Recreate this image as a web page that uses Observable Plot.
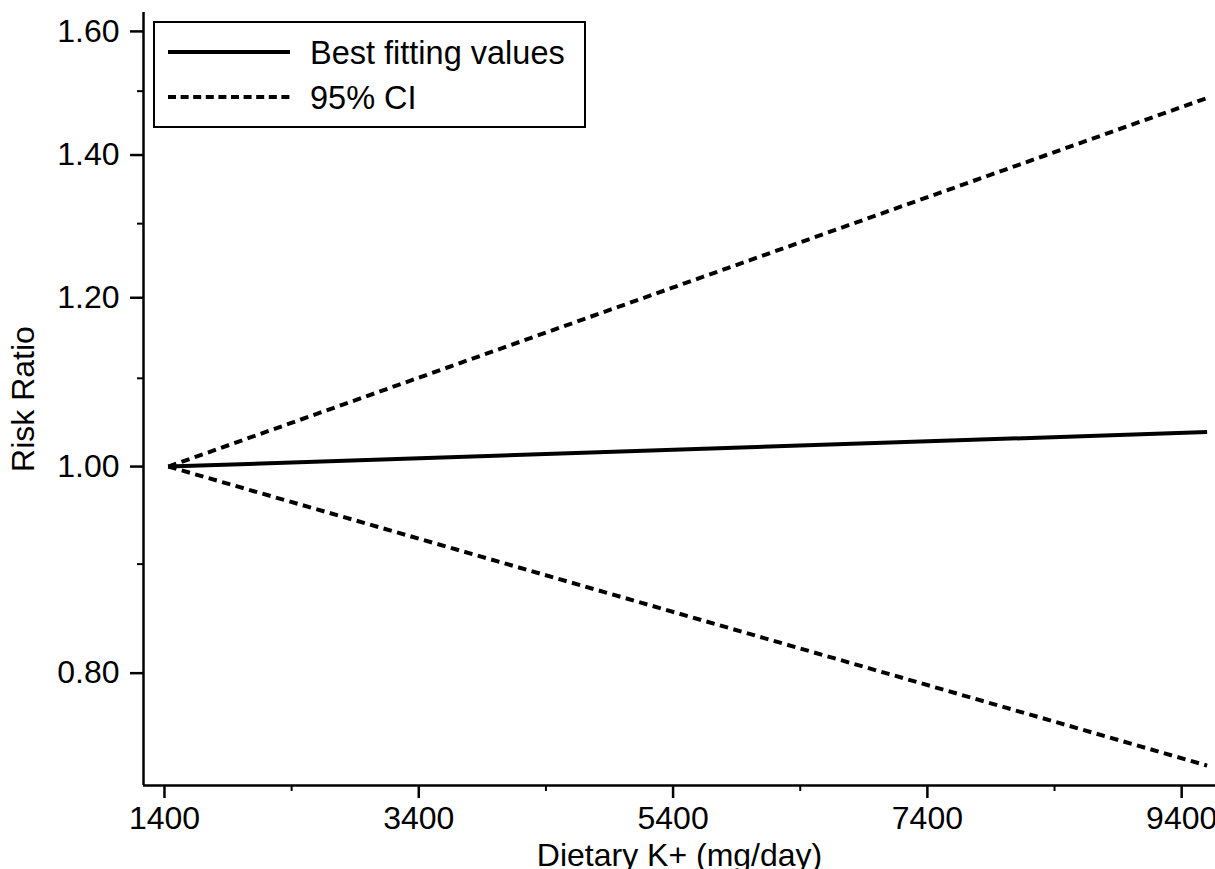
<!DOCTYPE html>
<html><head><meta charset="utf-8">
<script src="https://cdn.jsdelivr.net/npm/d3@7"></script>
<script src="https://cdn.jsdelivr.net/npm/@observablehq/plot@0.6"></script>
<style>
body{margin:0;background:#fff;font-family:"Liberation Sans",Arial,sans-serif}
#wrap{position:relative;width:1215px;height:869px;overflow:hidden}
#legend{position:absolute;left:0;top:0}
</style>
</head><body><div id="wrap"></div>
<script>
// Data
const potassium = [1430, 9600];          // Dietary K+ (mg/day)
const bestFit   = [1.000, 1.038];        // Risk ratio, best fitting values
const ciUpper   = [1.000, 1.489];        // upper 95% CI
const ciLower   = [1.000, 0.724];        // lower 95% CI
const yMajorTicks = [0.8, 1.0, 1.2, 1.4, 1.6];
const yMinorTicks = [0.9, 1.1, 1.3, 1.5];
const xMajorTicks = [1400, 3400, 5400, 7400, 9400];
const xMinorTicks = [2400, 4400, 6400, 8400];
const xDomain = [1235, 9666];
const yDomain = [0.7086, 1.633];
const seriesNames = ["Best fitting values", "95% CI"];
const xLabel = "Dietary K+ (mg/day)";
const yLabel = "Risk Ratio";

const rows = (ys) => potassium.map((x, i) => ({x, y: ys[i]}));
const FONT = 32;

const chart = Plot.plot({
  width: 1215, height: 869,
  marginTop: 12, marginBottom: 84, marginLeft: 143, marginRight: 0,
  style: {fontFamily: "'Liberation Sans', Arial, sans-serif", fontSize: FONT + "px", color: "#000", background: "#fff", overflow: "visible"},
  x: {domain: xDomain},
  y: {type: "log", domain: yDomain},
  marks: [
    Plot.axisX({ticks: xMajorTicks, tickSize: 13, tickPadding: 8, tickFormat: d3.format("d"), label: null, strokeWidth: 2.5, fontSize: FONT}),
    Plot.axisX({ticks: xMinorTicks, tickSize: 6, tickFormat: () => "", label: null, strokeWidth: 2}),
    Plot.axisY({ticks: yMajorTicks, tickSize: 13, tickPadding: 11, tickFormat: d3.format(".2f"), label: null, strokeWidth: 2.5, fontSize: FONT}),
    Plot.axisY({ticks: yMinorTicks, tickSize: 6, tickFormat: () => "", label: null, strokeWidth: 2}),
    Plot.ruleX([xDomain[0]], {stroke: "#000", strokeWidth: 2.5}),
    Plot.ruleY([yDomain[0]], {stroke: "#000", strokeWidth: 2.5}),
    Plot.line(rows(ciUpper), {x: "x", y: "y", stroke: "#000", strokeWidth: 4, strokeDasharray: "8.5,5.5", strokeLinecap: "butt"}),
    Plot.line(rows(ciLower), {x: "x", y: "y", stroke: "#000", strokeWidth: 4, strokeDasharray: "8.5,5.5", strokeLinecap: "butt"}),
    Plot.line(rows(bestFit), {x: "x", y: "y", stroke: "#000", strokeWidth: 4, strokeLinecap: "butt"}),
    Plot.text([yLabel], {frameAnchor: "left", textAnchor: "middle", rotate: -90, dx: -120, fontSize: FONT, fill: "#000"}),
    Plot.text([xLabel], {frameAnchor: "bottom", textAnchor: "middle", dy: 80, fontSize: FONT, fill: "#000"})
  ]
});
const wrap = document.getElementById("wrap");
wrap.appendChild(chart);

// Legend inside the plot area (top-left box)
const leg = d3.select(wrap).append("svg").attr("id", "legend")
  .attr("width", 1215).attr("height", 869)
  .style("font-family", "'Liberation Sans', Arial, sans-serif");
leg.append("rect").attr("x", 154).attr("y", 22).attr("width", 431).attr("height", 105)
  .attr("fill", "#fff").attr("stroke", "#000").attr("stroke-width", 2);
const legendStyles = [{dash: null}, {dash: "8,4.6"}];
const legY = [52, 97];
seriesNames.forEach((name, i) => {
  leg.append("line").attr("x1", 168).attr("x2", 290).attr("y1", legY[i]).attr("y2", legY[i])
    .attr("stroke", "#000").attr("stroke-width", 4)
    .attr("stroke-dasharray", legendStyles[i].dash);
  leg.append("text").attr("x", 310).attr("y", legY[i] + 11.5)
    .attr("font-size", 32.5).attr("fill", "#000").text(name);
});
</script>
</body></html>
